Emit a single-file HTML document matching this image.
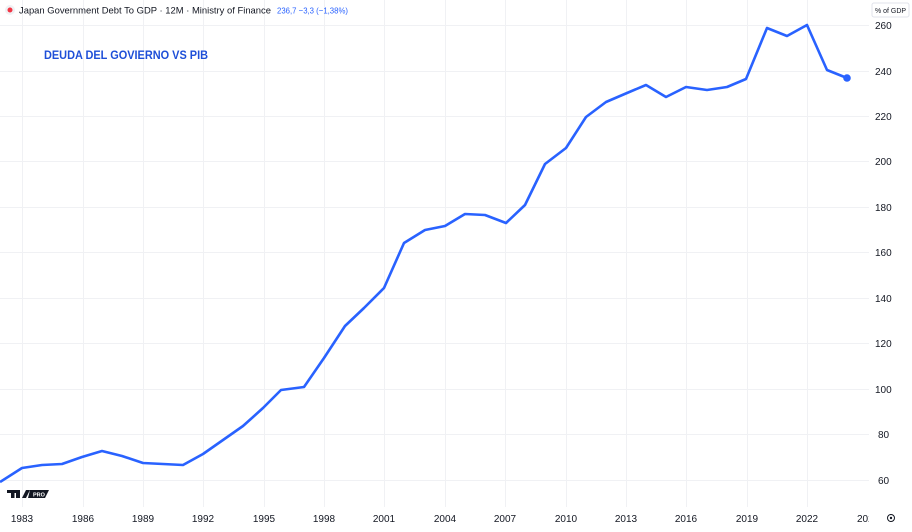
<!DOCTYPE html>
<html><head><meta charset="utf-8"><style>
body{margin:0;background:#fff;width:912px;height:527px;overflow:hidden;font-family:"Liberation Sans",sans-serif}
</style></head><body>
<svg width="912" height="527" xmlns="http://www.w3.org/2000/svg" font-family="Liberation Sans, sans-serif">
<rect width="912" height="527" fill="#fff"/>
<g stroke="#f0f1f4" stroke-width="1">
<line x1="0" y1="25.5" x2="869" y2="25.5"/><line x1="0" y1="71.5" x2="869" y2="71.5"/><line x1="0" y1="116.5" x2="869" y2="116.5"/><line x1="0" y1="161.5" x2="869" y2="161.5"/><line x1="0" y1="207.5" x2="869" y2="207.5"/><line x1="0" y1="252.5" x2="869" y2="252.5"/><line x1="0" y1="298.5" x2="869" y2="298.5"/><line x1="0" y1="343.5" x2="869" y2="343.5"/><line x1="0" y1="389.5" x2="869" y2="389.5"/><line x1="0" y1="434.5" x2="869" y2="434.5"/><line x1="0" y1="480.5" x2="869" y2="480.5"/>
<line x1="22.5" y1="0" x2="22.5" y2="507"/><line x1="83.5" y1="0" x2="83.5" y2="507"/><line x1="143.5" y1="0" x2="143.5" y2="507"/><line x1="203.5" y1="0" x2="203.5" y2="507"/><line x1="264.5" y1="0" x2="264.5" y2="507"/><line x1="324.5" y1="0" x2="324.5" y2="507"/><line x1="384.5" y1="0" x2="384.5" y2="507"/><line x1="445.5" y1="0" x2="445.5" y2="507"/><line x1="505.5" y1="0" x2="505.5" y2="507"/><line x1="566.5" y1="0" x2="566.5" y2="507"/><line x1="626.5" y1="0" x2="626.5" y2="507"/><line x1="686.5" y1="0" x2="686.5" y2="507"/><line x1="747.5" y1="0" x2="747.5" y2="507"/><line x1="807.5" y1="0" x2="807.5" y2="507"/>
</g>
<polyline fill="none" stroke="#2962ff" stroke-width="2.6" stroke-linejoin="round" points="0,482 22,468 42,465 62,464 82,457 102,451 122,456 143,463 163,464 183,465 203,454 223,440 243,426 263,408 281,390 304,387 324,358 345,326 364,308 384,288 404,243 425,230 445,226 465,214 485,215 506,223 525,205 545,164 566,148 586,117 606,102 627,93 646,85 666,97 686,87 707,90 727,87 746,79 767,28 787,36 807,25 827,70 847,78"/>
<circle cx="847" cy="78" r="3.8" fill="#2962ff"/>
<g font-size="10" fill="#131722" text-anchor="start">
<text x="875" y="29">260</text><text x="875" y="75">240</text><text x="875" y="120">220</text><text x="875" y="165">200</text><text x="875" y="211">180</text><text x="875" y="256">160</text><text x="875" y="302">140</text><text x="875" y="347">120</text><text x="875" y="393">100</text><text x="878" y="438">80</text><text x="878" y="484">60</text>
</g>
<rect x="872" y="3" width="37" height="14" fill="#fff" stroke="#e0e3eb" rx="2"/>
<text x="875" y="13" font-size="7.5" fill="#131722" textLength="31" lengthAdjust="spacingAndGlyphs">% of GDP</text>
<g font-size="10" fill="#131722" text-anchor="middle">
<text x="22" y="522">1983</text><text x="83" y="522">1986</text><text x="143" y="522">1989</text><text x="203" y="522">1992</text><text x="264" y="522">1995</text><text x="324" y="522">1998</text><text x="384" y="522">2001</text><text x="445" y="522">2004</text><text x="505" y="522">2007</text><text x="566" y="522">2010</text><text x="626" y="522">2013</text><text x="686" y="522">2016</text><text x="747" y="522">2019</text><text x="807" y="522">2022</text>
</g>
<text x="857" y="522" font-size="10" fill="#131722">202</text>
<rect x="869" y="508" width="10" height="19" fill="#fff"/>
<circle cx="891" cy="518" r="3.5" fill="none" stroke="#131722" stroke-width="1"/><circle cx="891" cy="518" r="1.2" fill="#131722"/>
<circle cx="10" cy="10" r="5" fill="#f0f1f4"/><circle cx="10" cy="10" r="2.5" fill="#f23645"/>
<text x="19" y="13.5" font-size="9.5" fill="#131722" textLength="252" lengthAdjust="spacingAndGlyphs">Japan Government Debt To GDP · 12M · Ministry of Finance</text>
<text x="277" y="13.5" font-size="8.5" fill="#2962ff" textLength="71" lengthAdjust="spacingAndGlyphs">236,7  −3,3 (−1,38%)</text>
<text x="44" y="59" font-size="12" font-weight="bold" fill="#1e4fd8" textLength="164" lengthAdjust="spacingAndGlyphs">DEUDA DEL GOVIERNO VS PIB</text>
<g fill="#131722">
<rect x="7" y="490" width="9" height="3"/><rect x="11" y="490" width="3.5" height="8"/>
<polygon points="16,490 20,490 20,498 16,498"/>
<polygon points="22,498 26,490 30,490 26,498"/>
<polygon points="30,490 49,490 45,498 28,498"/>
</g>
<text x="33" y="496.5" font-size="5.5" font-weight="bold" fill="#fff">PRO</text>
</svg>
</body></html>
